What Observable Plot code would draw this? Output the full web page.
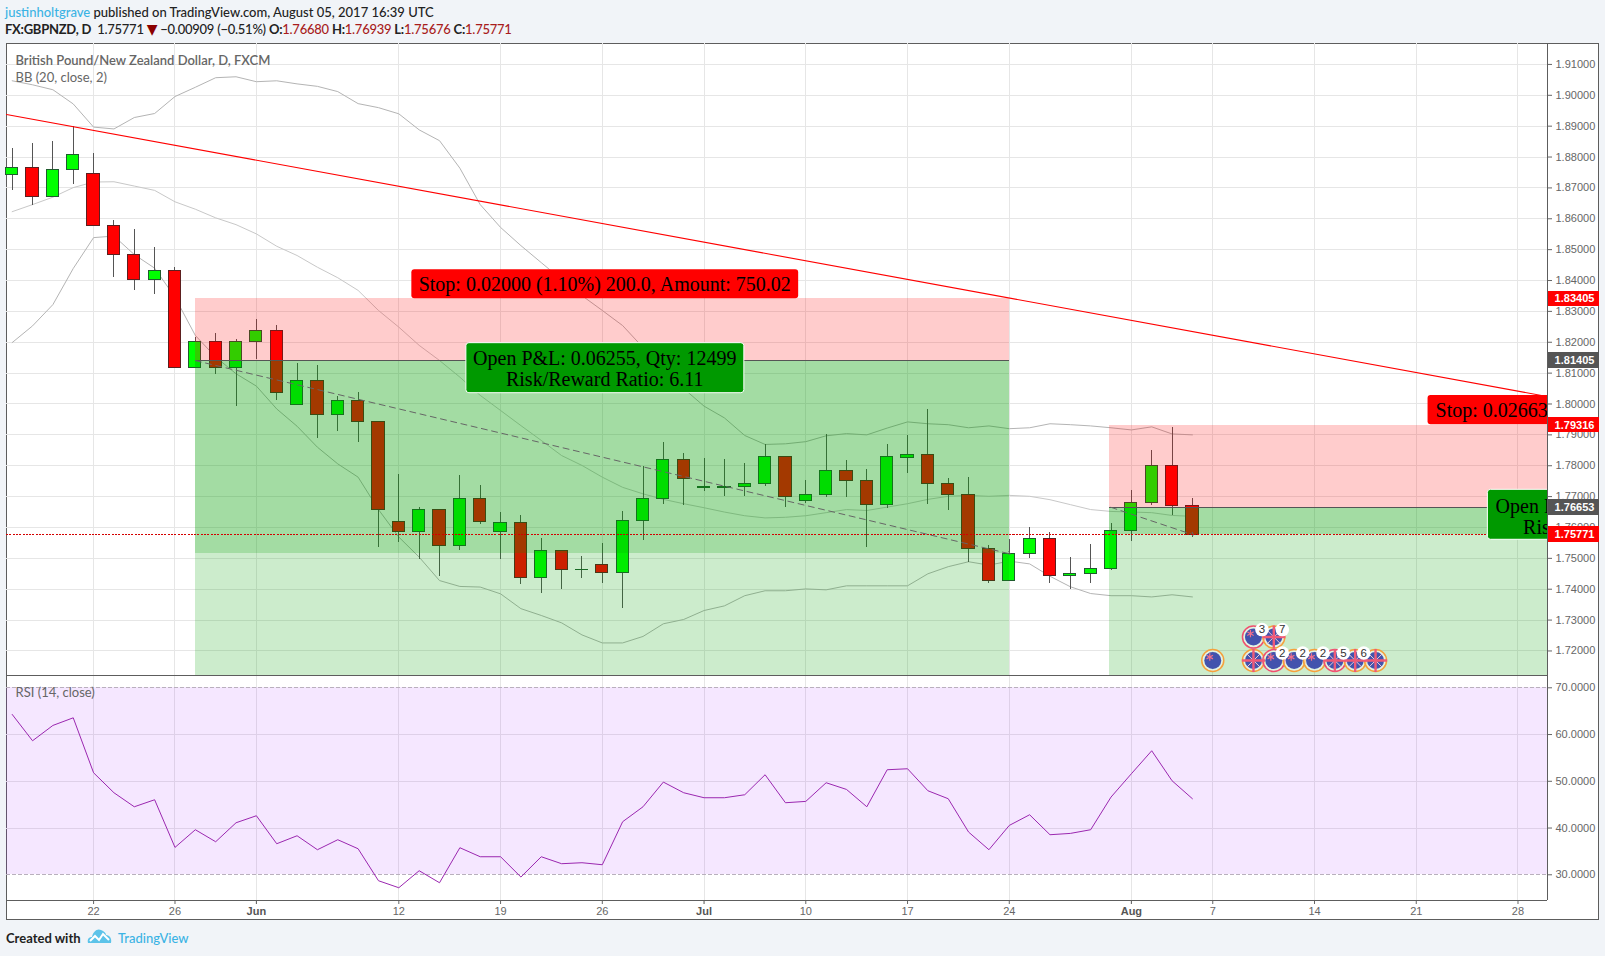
<!DOCTYPE html>
<html><head><meta charset="utf-8">
<script src="https://cdn.jsdelivr.net/npm/d3@7"></script>
<script src="https://cdn.jsdelivr.net/npm/@observablehq/plot@0.6"></script>
<style>
html,body{margin:0;padding:0;background:#f1f4f8;width:1605px;height:956px;overflow:hidden}
.abs{position:absolute}
#frame{left:6px;top:43px;width:1593px;height:877px;box-sizing:border-box;border:1px solid #5d5d5d;background:#fff}
#main,#rsi{position:absolute;left:6px}
#main{top:43px}#rsi{top:675px}
#main svg,#rsi svg{display:block}
.sep{position:absolute;background:#5d5d5d}
.hdr{position:absolute;left:5px;font:500 13px Lato,sans-serif;color:#222;white-space:pre}
.foot{position:absolute;font:700 13px Lato,sans-serif;white-space:pre}
</style></head><body>
<div id="frame" class="abs"></div>
<div id="main"></div><div id="rsi"></div>
<div class="sep" style="left:6px;top:675px;width:1541px;height:1px"></div>
<div class="sep" style="left:6px;top:900px;width:1541px;height:1px"></div>
<div class="sep" style="left:1547px;top:43px;width:1px;height:857px"></div>
<div class="hdr" style="top:4px"><span style="color:#3bb3e4">justinholtgrave</span> published on TradingView.com, August 05, 2017 16:39 UTC</div>
<div class="hdr" style="top:21px;letter-spacing:-0.25px"><b>FX:GBPNZD, D</b>  1.75771 <span style="color:#8b0000;font:14px 'DejaVu Sans';line-height:0">▼</span> −0.00909 (−0.51%) <b>O:</b><span style="color:#a81c1c">1.76680</span> <b>H:</b><span style="color:#a81c1c">1.76939</span> <b>L:</b><span style="color:#a81c1c">1.75676</span> <b>C:</b><span style="color:#a81c1c">1.75771</span></div>
<div class="foot" style="left:6px;top:930px;color:#222">Created with</div>
<svg class="abs" style="left:87px;top:927px" width="26" height="18" viewBox="0 0 26 18"><path d="M1 16 C0 12 2 10 5 10 C6 5 10 1 14 3 C17 4 19 6 19 8 C23 8 25 12 24 16 Z" fill="#5cc3e9"/><path d="M3 14 L8 9 L12 13 L16 7 L22 13" fill="none" stroke="#fff" stroke-width="2"/></svg>
<div class="foot" style="left:118px;top:930px;color:#3bb3e4;font-weight:500">TradingView</div>
<script>
// ---- data ----
const openPrices  = [1.87425,1.87651,1.86699,1.87587,1.87457,1.85773,1.84833,1.84023,1.84315,1.8116,1.82015,1.8116,1.82015,1.82371,1.79974,1.80752,1.7965,1.80104,1.79423,1.76184,1.75847,1.76573,1.75406,1.76929,1.75847,1.76152,1.7437,1.75245,1.74625,1.74791,1.74532,1.76216,1.76929,1.78192,1.7729,1.7729,1.77305,1.77415,1.7829,1.76851,1.77059,1.77836,1.77512,1.76722,1.78244,1.78354,1.77402,1.77046,1.75296,1.7426,1.75134,1.75633,1.74422,1.74486,1.74648,1.75892,1.76799,1.77998,1.7668];
const highPrices  = [1.88267,1.88429,1.88494,1.88989,1.88105,1.85944,1.85653,1.8506,1.84412,1.82164,1.82294,1.8208,1.82737,1.82543,1.81302,1.81237,1.80233,1.80363,1.79423,1.77716,1.76637,1.76573,1.77674,1.7735,1.76475,1.76378,1.75633,1.75245,1.7505,1.75471,1.76508,1.77966,1.78743,1.78396,1.78225,1.78192,1.78063,1.78688,1.7829,1.77522,1.79012,1.7816,1.77878,1.78688,1.7898,1.79822,1.77587,1.77619,1.75416,1.75611,1.76009,1.75828,1.75027,1.75449,1.76129,1.77198,1.78494,1.79239,1.76939];
const lowPrices   = [1.86916,1.8644,1.86699,1.8712,1.8576,1.84108,1.83686,1.83557,1.81166,1.8116,1.80965,1.79929,1.81432,1.80113,1.79974,1.78892,1.79119,1.78763,1.75361,1.75523,1.74972,1.74422,1.75264,1.76106,1.74972,1.74163,1.73871,1.74001,1.74357,1.74195,1.73385,1.75588,1.76754,1.76722,1.77166,1.77004,1.77004,1.77327,1.76657,1.76787,1.76971,1.76981,1.75361,1.76624,1.77758,1.76754,1.7655,1.74875,1.74185,1.7426,1.74995,1.74185,1.73991,1.74185,1.74606,1.75556,1.76712,1.76388,1.75676];
const closePrices = [1.87651,1.86699,1.87587,1.88073,1.8576,1.84833,1.84023,1.84315,1.81166,1.82015,1.8116,1.82015,1.82371,1.80363,1.80752,1.7965,1.80104,1.79423,1.7656,1.75847,1.76573,1.75406,1.76929,1.76184,1.76152,1.7437,1.75245,1.74629,1.74632,1.74532,1.76216,1.76929,1.78192,1.77564,1.773,1.773,1.77415,1.7829,1.76981,1.77059,1.77836,1.77512,1.76722,1.7829,1.78354,1.77402,1.77046,1.75296,1.7426,1.75147,1.75633,1.74422,1.745,1.74661,1.75892,1.76799,1.77998,1.7668,1.75771];
const bbUpper = [1.9047,1.9034,1.9018,1.8972,1.8897,1.8891,1.8928,1.8941,1.8996,1.9026,1.9057,1.906,1.9044,1.9047,1.9037,1.9029,1.9012,1.8973,1.896,1.894,1.8888,1.8853,1.8764,1.8646,1.8572,1.8513,1.8458,1.8403,1.8351,1.8303,1.8254,1.8183,1.8115,1.805,1.7993,1.7955,1.7898,1.7869,1.7871,1.7878,1.7897,1.7904,1.79,1.7922,1.7942,1.7936,1.7933,1.7923,1.7929,1.792,1.7923,1.7936,1.7933,1.7929,1.7923,1.7916,1.7926,1.7903,1.79];
const bbBasis = [1.8623,1.8646,1.867,1.8701,1.8719,1.872,1.8706,1.8692,1.8655,1.8631,1.8603,1.8581,1.8551,1.8511,1.8481,1.8443,1.8409,1.8368,1.8303,1.8249,1.819,1.8141,1.8087,1.8028,1.7979,1.793,1.7882,1.7833,1.7801,1.7763,1.773,1.7709,1.7691,1.7677,1.7664,1.765,1.7638,1.7631,1.7633,1.7638,1.7648,1.7658,1.7655,1.7666,1.7677,1.7691,1.7701,1.7704,1.7701,1.7704,1.7701,1.769,1.7674,1.7658,1.7652,1.765,1.7648,1.7639,1.7636];
const bbLower = [1.8199,1.8253,1.8322,1.8439,1.8539,1.8544,1.8484,1.844,1.8346,1.8222,1.8152,1.8098,1.8058,1.7984,1.7928,1.786,1.7806,1.7763,1.7658,1.7569,1.7504,1.7428,1.7409,1.7407,1.7385,1.7337,1.7315,1.7291,1.7252,1.7226,1.7226,1.7247,1.7288,1.7302,1.7331,1.7346,1.7379,1.7395,1.7395,1.7401,1.7398,1.7411,1.7411,1.7411,1.7411,1.745,1.7473,1.7489,1.7478,1.7491,1.7482,1.7442,1.7408,1.7386,1.7379,1.7379,1.7375,1.7382,1.7375];
const rsiValues = [64.3,58.67,61.95,63.58,51.82,47.55,44.55,46.05,35.86,39.64,37.07,41.13,42.63,36.64,38.35,35.36,37.5,35.57,28.73,27.23,30.87,28.3,35.79,33.86,33.86,29.52,33.86,32.37,32.58,32.15,41.35,44.55,49.83,47.55,46.48,46.48,47.12,51.4,45.41,45.7,49.69,48.26,44.55,52.47,52.68,47.98,46.27,39.14,35.36,40.56,42.84,38.57,38.85,39.64,46.62,51.61,56.53,50.11,46.27];

const tickIdx    = [0,4,15,20,25,35,40,45,55,60,65,70];
const tickLabels = ["22","26","12","19","26","10","17","24","7","14","21","28"];
const monthIdx    = [8,30,51];
const monthLabels = ["Jun","Jul","Aug"];
const priceTicks = [1.72,1.73,1.74,1.75,1.76,1.77,1.78,1.79,1.8,1.81,1.82,1.83,1.84,1.85,1.86,1.87,1.88,1.89,1.9,1.91];
const rsiTicks = [30,40,50,60,70];

const xDomain = [-4.28, 71.45];
const labelX = [71.45, 73.99, 71.8];

// positions
const posStart   = [5, 49.93];
const posEnd     = [45, 72];
const posStop    = [1.83405, 1.79316];
const posEntry   = [1.81405, 1.76653];
const posCurrent = [1.7515, 1.75771];
const posTarget  = [1.69185, 1.7];
const arrowX = [[5,45],[50,54]];
const arrowY = [[1.81405,1.7515],[1.76653,1.75771]];

const trendX = [-4.28, 71.45];
const trendY = [1.8938, 1.8024];
const lastPrice = 1.75771;

const priceLabels = [1.83405,1.81405,1.79316,1.76653,1.75771];
const priceLabelColors = ["#f00","#555","#f00","#555","#f00"];

// callouts
const boxX1 = [15.64, 18.32, 65.58, 68.52];
const boxX2 = [34.65, 31.98, 75, 75];
const boxY1 = [1.84347, 1.8197, 1.80275, 1.7722];
const boxY2 = [1.83408, 1.8035, 1.79326, 1.75601];
const boxFill = ["#f00","#090","#f00","#090"];
const boxStroke = ["none","#fff","none","#fff"];
const calloutText = ["Stop: 0.02000 (1.10%) 200.0, Amount: 750.02","Open P&L: 0.06255, Qty: 12499","Risk/Reward Ratio: 6.11"];
const calloutX = [25.12,25.12,25.12];
const calloutY = [1.83878,1.81464,1.80794];
const clippedText = ["Stop: 0.02663","Open P","Ris"];
const clippedX = [65.95,68.9,70.25];
const clippedY = [1.79785,1.7669,1.7601];

// event badges
const evtIdx  = [55,57,58,59,60,61,62,63,57,58];
const evtY    = [1.7169,1.7169,1.7169,1.7169,1.7169,1.7169,1.7169,1.7169,1.7245,1.7245];
const evtKind = ["NZ","UK","NZ","NZ","NZ","UK","UK","UK","NZ","UK"];
const evtRing = ["#f5a13c","#f5a13c","#f0506e","#f5a13c","#f5a13c","#f0506e","#f5a13c","#f5a13c","#f0506e","#f5a13c"];
const evtCount = ["","","2","2","2","5","6","","3","7"];

const bars = openPrices.map((o,k)=>({i:k-4,open:o,high:highPrices[k],low:lowPrices[k],close:closePrices[k],up:closePrices[k]>=o}));
const rows = (a,extra={})=>a.map((v,k)=>({i:k-4,v,...extra}));
const positions = posStart.map((s,k)=>({s,e:posEnd[k],stop:posStop[k],entry:posEntry[k],cur:posCurrent[k],tgt:posTarget[k]}));
const events = evtIdx.map((i,k)=>({i,y:evtY[k],kind:evtKind[k],ring:evtRing[k],n:evtCount[k]}));
const boxes = boxX1.map((x1,k)=>({x1,x2:boxX2[k],y1:boxY1[k],y2:boxY2[k],fill:boxFill[k],stroke:boxStroke[k]}));
const plabels = priceLabels.map((p,k)=>({p,c:priceLabelColors[k]}));

const sans = '"Liberation Sans",Arial,sans-serif';
const serif = '"Liberation Serif","Times New Roman",serif';
const legendFont = 'Lato,sans-serif';
const gridColor = "#e6e6e6", crisp = {shapeRendering:"crispEdges"};
const allTicks = [...tickIdx,...monthIdx];
const bandStyle = {x:"i",y:"v",stroke:"#b4b4b4",strokeWidth:1,clip:true};

const main = Plot.plot({
  width:1593,height:632,marginTop:0,marginBottom:0,marginLeft:0,marginRight:52,
  style:{background:"transparent",fontFamily:sans,fontSize:"11px",overflow:"visible"},
  x:{domain:xDomain,axis:null},
  y:{domain:[1.71205,1.91678],axis:null},
  marks:[
    Plot.ruleY(priceTicks,{stroke:gridColor,...crisp}),
    Plot.ruleX(allTicks,{stroke:gridColor,...crisp}),
    Plot.axisY({anchor:"right",ticks:priceTicks,tickFormat:d3.format(".5f"),tickSize:4,tickPadding:4,color:"#666",label:null,fontSize:11}),
    Plot.line(rows(bbUpper),bandStyle),
    Plot.line(rows(bbBasis),{...bandStyle,stroke:"#c8c8c8"}),
    Plot.line(rows(bbLower),bandStyle),
    Plot.ruleX(bars,{x:"i",y1:"low",y2:"high",stroke:"#555",...crisp}),
    Plot.rect(bars,{x1:d=>d.i-0.3,x2:d=>d.i+0.3,y1:"open",y2:"close",
      fill:d=>d.up?"#00ff00":"#ff0000",stroke:d=>d.up?"#1f5c2e":"#5c1f1f",...crisp}),
    // position zones over the candles
    Plot.rect(positions,{x1:"s",x2:"e",y1:"stop",y2:"entry",fill:"#f00",fillOpacity:0.2,clip:true,...crisp}),
    Plot.rect(positions,{x1:"s",x2:"e",y1:"entry",y2:"tgt",fill:"#00a000",fillOpacity:0.2,clip:true,...crisp}),
    Plot.rect(positions,{x1:"s",x2:"e",y1:"entry",y2:"cur",fill:"#00a000",fillOpacity:0.2,clip:true,...crisp}),
    Plot.ruleY(positions,{y:"entry",x1:"s",x2:"e",stroke:"#555",clip:true,...crisp}),
    Plot.line(arrowX.map((xs,k)=>xs.map((x,j)=>({x,y:arrowY[k][j],k}))).flat(),{x:"x",y:"y",z:"k",stroke:"#666",strokeWidth:1,strokeDasharray:"6 4.5",markerEnd:"arrow"}),
    Plot.ruleY([lastPrice],{stroke:"#d40000",strokeDasharray:"2 1.3",...crisp}),
    Plot.line(trendX.map((x,k)=>({x,y:trendY[k]})),{x:"x",y:"y",stroke:"#f00",strokeWidth:1.1,clip:true}),
    // callouts
    Plot.rect(boxes,{x1:"x1",x2:"x2",y1:"y1",y2:"y2",fill:"fill",stroke:"stroke",rx:3,clip:true}),
    Plot.text(calloutText,{x:(d,k)=>calloutX[k],y:(d,k)=>calloutY[k],text:d=>d,fontFamily:serif,fontSize:20,fill:"#000"}),
    Plot.text(clippedText,{x:(d,k)=>clippedX[k],y:(d,k)=>clippedY[k],text:d=>d,textAnchor:"start",fontFamily:serif,fontSize:20,fill:"#000",clip:true}),
    // event badges
    Plot.dot(events,{x:"i",y:"y",r:11,fill:"#fff",fillOpacity:0.45,stroke:"ring",strokeWidth:1.5}),
    Plot.dot(events,{x:"i",y:"y",r:8.5,fill:"#4353ad"}),
    Plot.dot(events.filter(d=>d.kind==="UK"),{x:"i",y:"y",symbol:"times",r:6.5,stroke:"#f3c6d2",strokeWidth:1}),
    Plot.dot(events.filter(d=>d.kind==="UK"),{x:"i",y:"y",symbol:"plus",r:7.5,stroke:"#ef5a78",strokeWidth:2.4}),
    Plot.dot(events.filter(d=>d.kind==="NZ"),{x:"i",y:"y",symbol:"asterisk",r:3.5,dx:-3,dy:-3.5,stroke:"#f0708c",strokeWidth:1.2}),
    Plot.dot(events.filter(d=>d.n),{x:"i",y:"y",r:6.8,dx:8.5,dy:-7.5,fill:"#fff"}),
    Plot.text(events.filter(d=>d.n),{x:"i",y:"y",text:"n",dx:8.5,dy:-7.5,fill:"#333",fontSize:11.5}),
    // price tags on the axis
    Plot.rect(plabels,{x1:labelX[0],x2:labelX[1],y1:d=>d.p+0.0025,y2:d=>d.p-0.0025,fill:"c",...crisp}),
    Plot.text(plabels,{x:labelX[2],y:"p",text:d=>d3.format(".5f")(d.p),textAnchor:"start",fill:"#fff",fontSize:11,fontWeight:"bold"}),
    // pane legends
    Plot.text(["British Pound/New Zealand Dollar, D, FXCM"],{frameAnchor:"top-left",dx:9,dy:12,fill:"#666",fontSize:13,fontWeight:600,fontFamily:legendFont}),
    Plot.text(["BB (20, close, 2)"],{frameAnchor:"top-left",dx:9,dy:29,fill:"#666",fontSize:13,fontFamily:legendFont})
  ]
});
document.getElementById("main").appendChild(main);

const rsi = Plot.plot({
  width:1593,height:244,marginTop:0,marginBottom:19,marginLeft:0,marginRight:52,
  style:{background:"transparent",fontFamily:sans,fontSize:"11px",overflow:"visible"},
  x:{domain:xDomain,axis:null},
  y:{domain:[24.5,72.63],axis:null},
  marks:[
    Plot.ruleY([40,50,60],{stroke:gridColor,...crisp}),
    Plot.ruleX(allTicks,{stroke:gridColor,...crisp}),
    Plot.rect([{a:30,b:70}],{x1:xDomain[0],x2:xDomain[1],y1:"a",y2:"b",fill:"rgb(153,21,255)",fillOpacity:0.1,...crisp}),
    Plot.ruleY([30,70],{stroke:"#b9b0bd",strokeDasharray:"4 2",...crisp}),
    Plot.axisY({anchor:"right",ticks:rsiTicks,tickFormat:d3.format(".4f"),tickSize:4,tickPadding:4,color:"#666",label:null,fontSize:11}),
    Plot.axisX({ticks:tickIdx,tickFormat:d=>tickLabels[tickIdx.indexOf(d)],tickSize:4,tickPadding:3,color:"#666",label:null,fontSize:11}),
    Plot.axisX({ticks:monthIdx,tickFormat:d=>monthLabels[monthIdx.indexOf(d)],tickSize:4,tickPadding:3,color:"#555",label:null,fontSize:11,fontWeight:"bold"}),
    Plot.line(rows(rsiValues),{x:"i",y:"v",stroke:"#9b27b0",strokeWidth:1}),
    Plot.text(["RSI (14, close)"],{frameAnchor:"top-left",dx:9,dy:12,fill:"#666",fontSize:13,fontFamily:legendFont})
  ]
});
document.getElementById("rsi").appendChild(rsi);
</script>
</body></html>
